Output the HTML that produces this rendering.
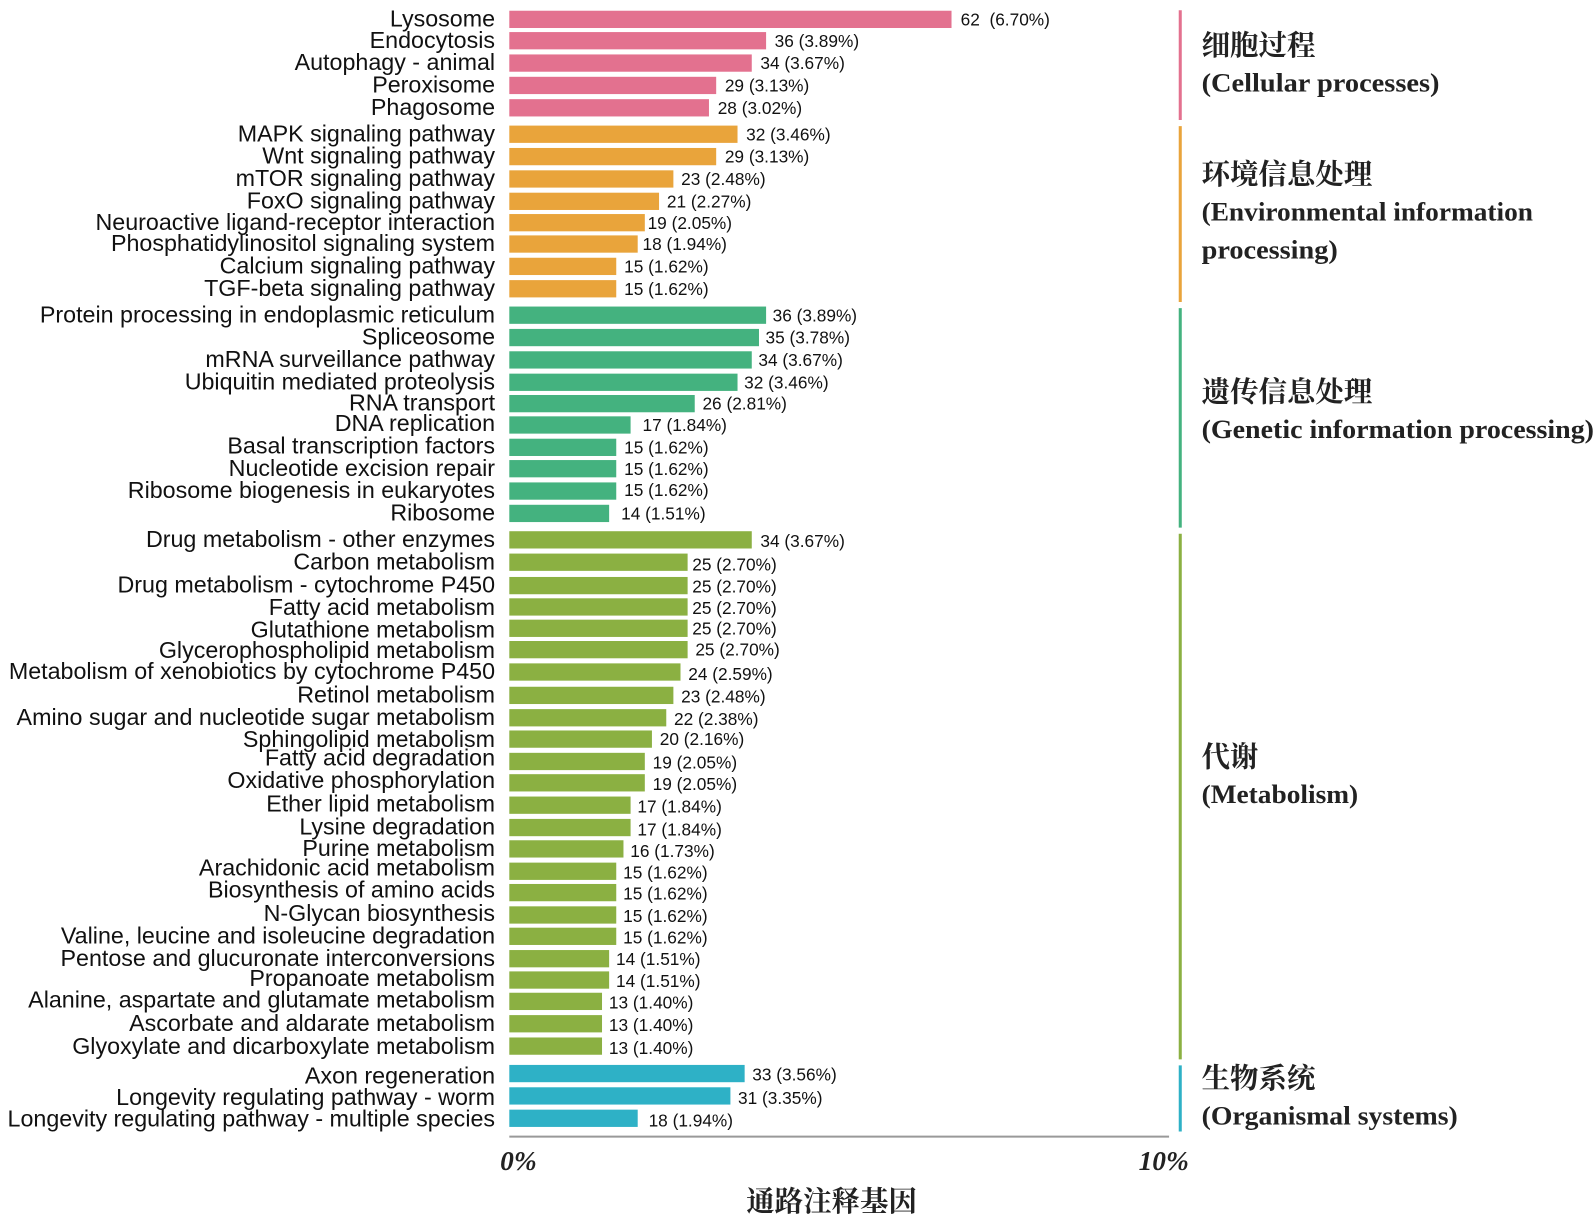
<!DOCTYPE html>
<html><head><meta charset="utf-8"><style>
html,body{margin:0;padding:0;background:#fff;}
svg{display:block}
.l{font-family:"Liberation Sans",Arial,sans-serif;font-size:22.9px;fill:#111;text-anchor:end}
.v{font-family:"Liberation Sans",Arial,sans-serif;font-size:17px;fill:#111}
.cn{font-family:"Noto Serif CJK SC","Liberation Serif",serif;font-size:28px;font-weight:bold;fill:#222}
.en{font-family:"Liberation Serif",serif;font-size:26px;font-weight:bold;fill:#222}
.pk{fill:#e3718f}.or{fill:#e9a43b}.gr{fill:#44b27f}.yg{fill:#8bb042}.cy{fill:#2eb1c6}
</style></head><body>
<svg width="1594" height="1220" viewBox="0 0 1568 1200" xmlns="http://www.w3.org/2000/svg">
<g>
<rect class="pk" x="501" y="10.5" width="435" height="17"/><text class="l" x="487" y="26">Lysosome</text><text class="v" x="945" y="25" xml:space="preserve">62  (6.70%)</text>
<rect class="pk" x="501" y="31.5" width="252.6" height="17"/><text class="l" x="487" y="47">Endocytosis</text><text class="v" x="762" y="46">36 (3.89%)</text>
<rect class="pk" x="501" y="53.5" width="238.5" height="17"/><text class="l" x="487" y="69">Autophagy - animal</text><text class="v" x="748" y="68">34 (3.67%)</text>
<rect class="pk" x="501" y="75.5" width="203.5" height="17"/><text class="l" x="487" y="91">Peroxisome</text><text class="v" x="713" y="90">29 (3.13%)</text>
<rect class="pk" x="501" y="97.5" width="196.4" height="17"/><text class="l" x="487" y="113">Phagosome</text><text class="v" x="706" y="112">28 (3.02%)</text>
<rect class="or" x="501" y="123.5" width="224.5" height="17"/><text class="l" x="487" y="139">MAPK signaling pathway</text><text class="v" x="734" y="138">32 (3.46%)</text>
<rect class="or" x="501" y="145.5" width="203.5" height="17"/><text class="l" x="487" y="161">Wnt signaling pathway</text><text class="v" x="713" y="160">29 (3.13%)</text>
<rect class="or" x="501" y="167.5" width="161.4" height="17"/><text class="l" x="487" y="183">mTOR signaling pathway</text><text class="v" x="670" y="182">23 (2.48%)</text>
<rect class="or" x="501" y="189.5" width="147.3" height="17"/><text class="l" x="487" y="205">FoxO signaling pathway</text><text class="v" x="656" y="204">21 (2.27%)</text>
<rect class="or" x="501" y="210.5" width="133.3" height="17"/><text class="l" x="487" y="226">Neuroactive ligand-receptor interaction</text><text class="v" x="637" y="225">19 (2.05%)</text>
<rect class="or" x="501" y="231.5" width="126.3" height="17"/><text class="l" x="487" y="247">Phosphatidylinositol signaling system</text><text class="v" x="632" y="246">18 (1.94%)</text>
<rect class="or" x="501" y="253.5" width="105.2" height="17"/><text class="l" x="487" y="269">Calcium signaling pathway</text><text class="v" x="614" y="268">15 (1.62%)</text>
<rect class="or" x="501" y="275.5" width="105.2" height="17"/><text class="l" x="487" y="291">TGF-beta signaling pathway</text><text class="v" x="614" y="290">15 (1.62%)</text>
<rect class="gr" x="501" y="301.5" width="252.6" height="17"/><text class="l" x="487" y="317">Protein processing in endoplasmic reticulum</text><text class="v" x="760" y="316">36 (3.89%)</text>
<rect class="gr" x="501" y="323.5" width="245.6" height="17"/><text class="l" x="487" y="339">Spliceosome</text><text class="v" x="753" y="338">35 (3.78%)</text>
<rect class="gr" x="501" y="345.5" width="238.5" height="17"/><text class="l" x="487" y="361">mRNA surveillance pathway</text><text class="v" x="746" y="360">34 (3.67%)</text>
<rect class="gr" x="501" y="367.5" width="224.5" height="17"/><text class="l" x="487" y="383">Ubiquitin mediated proteolysis</text><text class="v" x="732" y="382">32 (3.46%)</text>
<rect class="gr" x="501" y="388.5" width="182.4" height="17"/><text class="l" x="487" y="404">RNA transport</text><text class="v" x="691" y="403">26 (2.81%)</text>
<rect class="gr" x="501" y="409.5" width="119.3" height="17"/><text class="l" x="487" y="424">DNA replication</text><text class="v" x="632" y="424">17 (1.84%)</text>
<rect class="gr" x="501" y="431.5" width="105.2" height="17"/><text class="l" x="487" y="446">Basal transcription factors</text><text class="v" x="614" y="446">15 (1.62%)</text>
<rect class="gr" x="501" y="452.5" width="105.2" height="17"/><text class="l" x="487" y="468">Nucleotide excision repair</text><text class="v" x="614" y="467">15 (1.62%)</text>
<rect class="gr" x="501" y="474.5" width="105.2" height="17"/><text class="l" x="487" y="490">Ribosome biogenesis in eukaryotes</text><text class="v" x="614" y="488">15 (1.62%)</text>
<rect class="gr" x="501" y="496.5" width="98.2" height="17"/><text class="l" x="487" y="512">Ribosome</text><text class="v" x="611" y="511">14 (1.51%)</text>
<rect class="yg" x="501" y="522.5" width="238.5" height="17"/><text class="l" x="487" y="538">Drug metabolism - other enzymes</text><text class="v" x="748" y="538">34 (3.67%)</text>
<rect class="yg" x="501" y="544.5" width="175.4" height="17"/><text class="l" x="487" y="560">Carbon metabolism</text><text class="v" x="681" y="561">25 (2.70%)</text>
<rect class="yg" x="501" y="567.5" width="175.4" height="17"/><text class="l" x="487" y="583">Drug metabolism - cytochrome P450</text><text class="v" x="681" y="583">25 (2.70%)</text>
<rect class="yg" x="501" y="588.5" width="175.4" height="17"/><text class="l" x="487" y="605">Fatty acid metabolism</text><text class="v" x="681" y="604">25 (2.70%)</text>
<rect class="yg" x="501" y="609.5" width="175.4" height="17"/><text class="l" x="487" y="627">Glutathione metabolism</text><text class="v" x="681" y="624">25 (2.70%)</text>
<rect class="yg" x="501" y="630.5" width="175.4" height="17"/><text class="l" x="487" y="647">Glycerophospholipid metabolism</text><text class="v" x="684" y="645">25 (2.70%)</text>
<rect class="yg" x="501" y="652.5" width="168.4" height="17"/><text class="l" x="487" y="668">Metabolism of xenobiotics by cytochrome P450</text><text class="v" x="677" y="669">24 (2.59%)</text>
<rect class="yg" x="501" y="675.5" width="161.4" height="17"/><text class="l" x="487" y="691">Retinol metabolism</text><text class="v" x="670" y="691">23 (2.48%)</text>
<rect class="yg" x="501" y="697.5" width="154.4" height="17"/><text class="l" x="487" y="713">Amino sugar and nucleotide sugar metabolism</text><text class="v" x="663" y="713">22 (2.38%)</text>
<rect class="yg" x="501" y="718.5" width="140.3" height="17"/><text class="l" x="487" y="735">Sphingolipid metabolism</text><text class="v" x="649" y="733">20 (2.16%)</text>
<rect class="yg" x="501" y="740.5" width="133.3" height="17"/><text class="l" x="487" y="753">Fatty acid degradation</text><text class="v" x="642" y="756">19 (2.05%)</text>
<rect class="yg" x="501" y="761.5" width="133.3" height="17"/><text class="l" x="487" y="775">Oxidative phosphorylation</text><text class="v" x="642" y="777">19 (2.05%)</text>
<rect class="yg" x="501" y="783.5" width="119.3" height="17"/><text class="l" x="487" y="798">Ether lipid metabolism</text><text class="v" x="627" y="799">17 (1.84%)</text>
<rect class="yg" x="501" y="805.5" width="119.3" height="17"/><text class="l" x="487" y="821">Lysine degradation</text><text class="v" x="627" y="822">17 (1.84%)</text>
<rect class="yg" x="501" y="826.5" width="112.3" height="17"/><text class="l" x="487" y="842">Purine metabolism</text><text class="v" x="620" y="843">16 (1.73%)</text>
<rect class="yg" x="501" y="848.5" width="105.2" height="17"/><text class="l" x="487" y="861">Arachidonic acid metabolism</text><text class="v" x="613" y="864">15 (1.62%)</text>
<rect class="yg" x="501" y="869.5" width="105.2" height="17"/><text class="l" x="487" y="883">Biosynthesis of amino acids</text><text class="v" x="613" y="885">15 (1.62%)</text>
<rect class="yg" x="501" y="891.5" width="105.2" height="17"/><text class="l" x="487" y="906">N-Glycan biosynthesis</text><text class="v" x="613" y="907">15 (1.62%)</text>
<rect class="yg" x="501" y="912.5" width="105.2" height="17"/><text class="l" x="487" y="928">Valine, leucine and isoleucine degradation</text><text class="v" x="613" y="928">15 (1.62%)</text>
<rect class="yg" x="501" y="934.5" width="98.2" height="17"/><text class="l" x="487" y="950">Pentose and glucuronate interconversions</text><text class="v" x="606" y="949">14 (1.51%)</text>
<rect class="yg" x="501" y="955.5" width="98.2" height="17"/><text class="l" x="487" y="970">Propanoate metabolism</text><text class="v" x="606" y="971">14 (1.51%)</text>
<rect class="yg" x="501" y="976.5" width="91.2" height="17"/><text class="l" x="487" y="991">Alanine, aspartate and glutamate metabolism</text><text class="v" x="599" y="992">13 (1.40%)</text>
<rect class="yg" x="501" y="998.5" width="91.2" height="17"/><text class="l" x="487" y="1014">Ascorbate and aldarate metabolism</text><text class="v" x="599" y="1014">13 (1.40%)</text>
<rect class="yg" x="501" y="1020.5" width="91.2" height="17"/><text class="l" x="487" y="1037">Glyoxylate and dicarboxylate metabolism</text><text class="v" x="599" y="1037">13 (1.40%)</text>
<rect class="cy" x="501" y="1047.5" width="231.5" height="17"/><text class="l" x="487" y="1066">Axon regeneration</text><text class="v" x="740" y="1063">33 (3.56%)</text>
<rect class="cy" x="501" y="1069.5" width="217.5" height="17"/><text class="l" x="487" y="1087">Longevity regulating pathway - worm</text><text class="v" x="726" y="1086">31 (3.35%)</text>
<rect class="cy" x="501" y="1091.5" width="126.3" height="17"/><text class="l" x="487" y="1108">Longevity regulating pathway - multiple species</text><text class="v" x="638" y="1108">18 (1.94%)</text>
</g>
<line x1="501" y1="1118" x2="1150" y2="1118" stroke="#999" stroke-width="2"/>
<text x="492" y="1151" style="font-family:'Liberation Serif',serif;font-size:27px;font-weight:bold;font-style:italic;fill:#222">0%</text>
<text x="1120" y="1151" style="font-family:'Liberation Serif',serif;font-size:27px;font-weight:bold;font-style:italic;fill:#222">10%</text>
<text x="818" y="1191" text-anchor="middle" class="cn" style="font-size:28px">通路注释基因</text>
<line x1="1161" y1="10" x2="1161" y2="118" stroke="#e3718f" stroke-width="3"/>
<line x1="1161" y1="124" x2="1161" y2="297" stroke="#e9a43b" stroke-width="3"/>
<line x1="1161" y1="303" x2="1161" y2="519" stroke="#44b27f" stroke-width="3"/>
<line x1="1161" y1="525" x2="1161" y2="1042" stroke="#8bb042" stroke-width="3"/>
<line x1="1161" y1="1048" x2="1161" y2="1113" stroke="#2eb1c6" stroke-width="3"/>
<text class="cn" x="1182" y="54">细胞过程</text>
<text class="en" x="1182" y="90" textLength="234" lengthAdjust="spacingAndGlyphs">(Cellular processes)</text>
<text class="cn" x="1182" y="181">环境信息处理</text>
<text class="en" x="1182" y="217" textLength="326" lengthAdjust="spacingAndGlyphs">(Environmental information</text>
<text class="en" x="1182" y="254" textLength="134" lengthAdjust="spacingAndGlyphs">processing)</text>
<text class="cn" x="1182" y="395">遗传信息处理</text>
<text class="en" x="1182" y="431" textLength="386" lengthAdjust="spacingAndGlyphs">(Genetic information processing)</text>
<text class="cn" x="1182" y="754">代谢</text>
<text class="en" x="1182" y="790" textLength="154" lengthAdjust="spacingAndGlyphs">(Metabolism)</text>
<text class="cn" x="1182" y="1070">生物系统</text>
<text class="en" x="1182" y="1106" textLength="252" lengthAdjust="spacingAndGlyphs">(Organismal systems)</text>
</svg>
</body></html>
